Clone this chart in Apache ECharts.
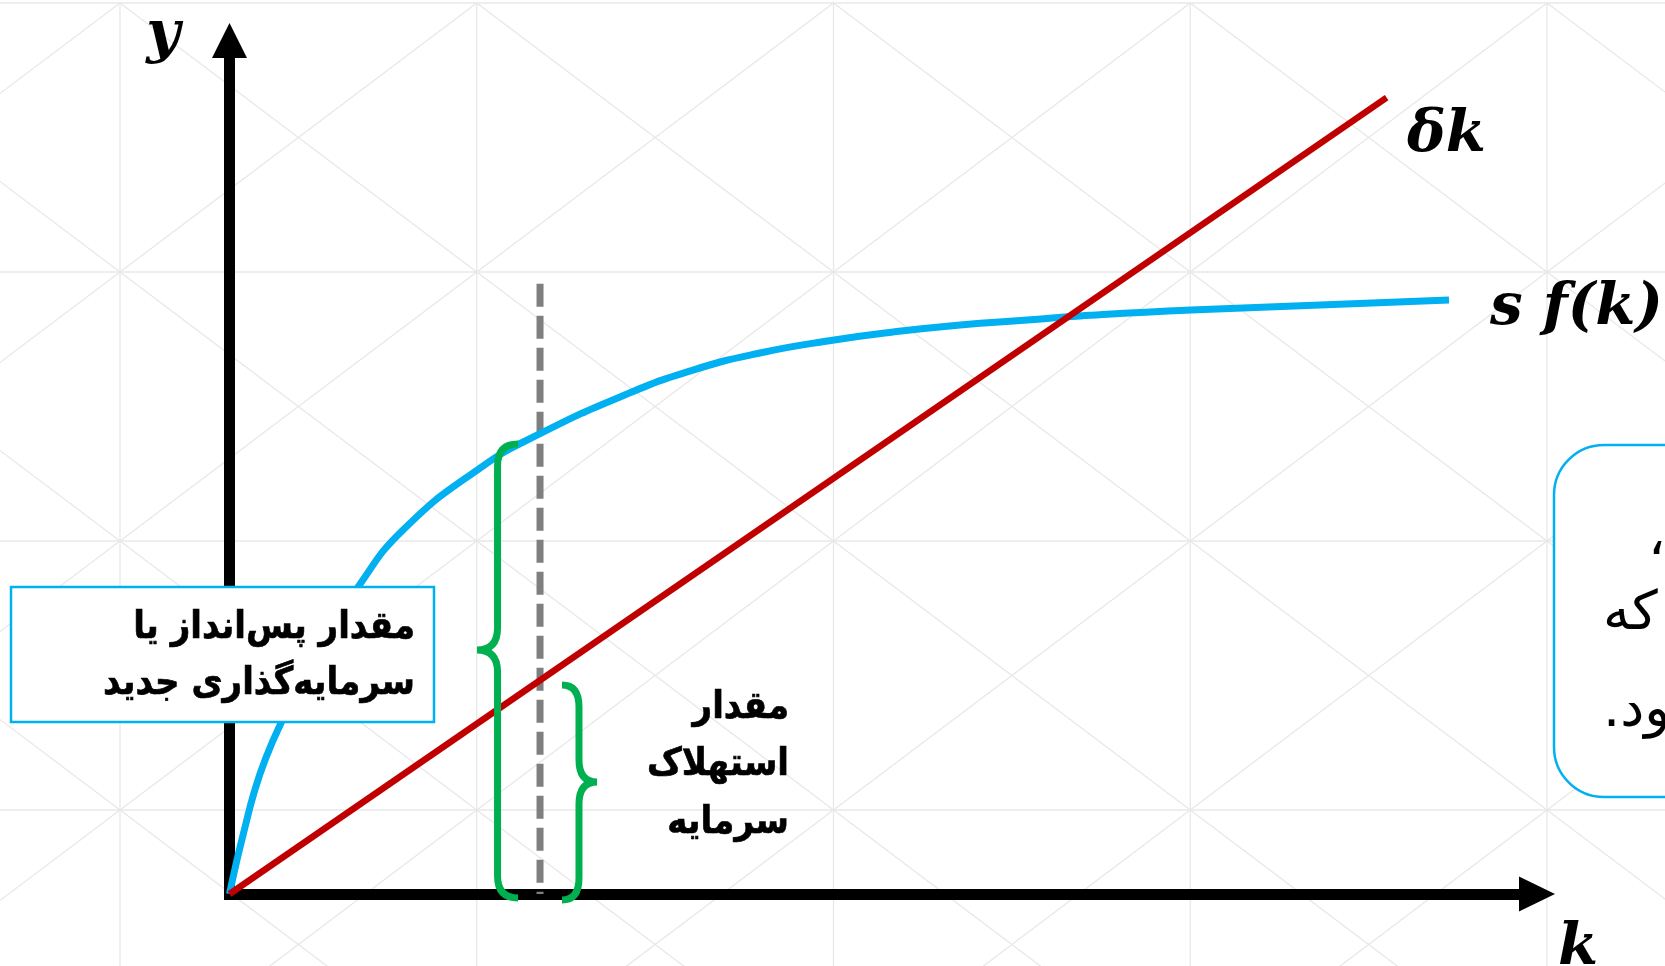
<!DOCTYPE html>
<html><head><meta charset="utf-8">
<script src="https://cdn.jsdelivr.net/npm/echarts@6/dist/echarts.min.js"></script>
<style>html,body{margin:0;padding:0;background:#fff}#c{width:1665px;height:966px}</style>
</head><body><div id="c"></div>
<script>
// ---- data (axis units: k 0..100, y 0..100) ----
const sfK = [0, 0.57, 1.19, 1.87, 2.72, 3.94, 6.77, 9.83, 13.27, 19.16, 23.71, 30.40, 35.45, 40.57, 46.25, 50.76, 55.89, 61.01, 65.06, 73.55, 93.27];
const sfV = [0, 3.98, 7.85, 11.83, 15.70, 20.04, 28.59, 35.97, 42.65, 49.91, 53.90, 58.58, 61.39, 63.39, 64.91, 65.85, 66.67, 67.25, 67.72, 68.42, 69.59];
const deltaK = [0, 88.5];
const deltaV = [0, 93.3];
const kStar = [23.75, 23.75];
const kStarV = [71.5, 0];
// braces: spine k, hook k, point k, bottom v, top v, point v
const braceSpine = [20.5, 26.73];
const braceHook = [22.07, 25.43];
const bracePointK = [18.93, 28.11];
const braceBottom = [-0.47, -0.7];
const braceTop = [52.72, 24.49];
const bracePointV = [28.59, 13.12];
// background pattern (cell indices)
const bgCols = [-1, 0, 1, 2, 3, 4, 5];
const bgRows = [0, 1, 2, 3, 4];
// texts
const yLabel = 'y', kLabel = 'k', deltaLabel = 'δk', sfLabel = 's f(k)';
const boxText = 'مقدار پس‌انداز یا\nسرمایه‌گذاری جدید';
const deprText = 'مقدار\nاستهلاک\nسرمایه';
const noteLines = ['،', 'که', 'می‌شود.\u200F'];

// build background segments
const bgSegs = [];
bgRows.forEach(r => bgSegs.push([bgCols[0], r, bgCols[bgCols.length - 1], r]));
bgCols.forEach(c => bgSegs.push([c, bgRows[0], c, bgRows[bgRows.length - 1]]));
for (let i = 0; i < bgCols.length - 1; i++) {
  for (let j = 0; j < bgRows.length - 1; j++) {
    const c = bgCols[i], r = bgRows[j];
    bgSegs.push([c, r, c + 1, r + 1]);
    bgSegs.push([c, r + 1, c + 1, r]);
  }
}
const braceData = braceSpine.map((s, i) => [s, braceHook[i], bracePointK[i], braceBottom[i], braceTop[i], bracePointV[i]]);

const chart = echarts.init(document.getElementById('c'), null, {renderer: 'canvas'});
const serifLbl = {fontFamily: 'DejaVu Serif', fontWeight: 'bold', fontStyle: 'italic', fontSize: 58, fill: '#000'};
function lbl(text, x, y, align) {
  return {type: 'text', z: 120, style: Object.assign({text, x, y, textAlign: align, align: align, textVerticalAlign: 'middle', verticalAlign: 'middle'}, serifLbl)};
}
const faFont = {fontFamily: 'DejaVu Sans', fill: '#000'};
const SY = 1.12;
function faBlock(text, x, y, lh) {
  return {type: 'text', z: 110, x: x, y: y, scaleY: SY,
    style: Object.assign({text: text, x: 0, y: 0, fontSize: 34, fontWeight: 'bold', lineHeight: lh / SY,
      stroke: '#000', lineWidth: 0.6,
      textAlign: 'right', align: 'right', textVerticalAlign: 'top', verticalAlign: 'top'}, faFont)};
}
function note(text, x, y) {
  return {type: 'text', z: 110, style: Object.assign({text: text, x: x, y: y, fontSize: 54, textAlign: 'left', align: 'left', textVerticalAlign: 'middle', verticalAlign: 'middle'}, faFont)};
}
chart.setOption({
  animation: false,
  backgroundColor: '#fff',
  grid: [
    {left: 120, top: 3, width: 1427, height: 807},
    {left: 229.5, top: 40.5, right: 128, bottom: 72}
  ],
  xAxis: [
    {gridIndex: 0, type: 'value', min: 0, max: 4, show: false},
    {gridIndex: 1, type: 'value', min: 0, max: 100,
     axisLine: {show: true, symbol: ['none', 'triangle'], symbolSize: [35, 36], lineStyle: {color: '#000', width: 11, cap: 'square'}},
     axisTick: {show: false}, axisLabel: {show: false}, splitLine: {show: false}}
  ],
  yAxis: [
    {gridIndex: 0, type: 'value', min: 0, max: 3, inverse: true, show: false},
    {gridIndex: 1, type: 'value', min: 0, max: 100,
     axisLine: {show: true, symbol: ['none', 'triangle'], symbolSize: [35, 35], lineStyle: {color: '#000', width: 11, cap: 'square'}},
     axisTick: {show: false}, axisLabel: {show: false}, splitLine: {show: false}}
  ],
  series: [
    {
      type: 'custom', xAxisIndex: 0, yAxisIndex: 0, z: 0, silent: true, clip: false,
      data: bgSegs,
      renderItem: function (params, api) {
        const a = api.coord([api.value(0), api.value(1)]);
        const b = api.coord([api.value(2), api.value(3)]);
        return {type: 'line', shape: {x1: a[0], y1: a[1], x2: b[0], y2: b[1]}, style: {stroke: '#e8e8e8', lineWidth: 1.3}};
      }
    },
    {
      type: 'line', xAxisIndex: 1, yAxisIndex: 1, z: 3, showSymbol: false, symbol: 'none',
      data: kStar.map((k, i) => [k, kStarV[i]]),
      lineStyle: {color: '#7f7f7f', width: 7, type: [23, 9]}
    },
    {
      type: 'line', xAxisIndex: 1, yAxisIndex: 1, z: 4, showSymbol: false, symbol: 'none', smooth: 0.5,
      data: sfK.map((k, i) => [k, sfV[i]]),
      lineStyle: {color: '#00B0F0', width: 7}
    },
    {
      type: 'line', xAxisIndex: 1, yAxisIndex: 1, z: 5, showSymbol: false, symbol: 'none',
      data: deltaK.map((k, i) => [k, deltaV[i]]),
      lineStyle: {color: '#C00000', width: 6.5}
    },
    {
      type: 'custom', xAxisIndex: 1, yAxisIndex: 1, z: 6, clip: false,
      data: braceData,
      renderItem: function (params, api) {
        const sx = api.coord([api.value(0), 0])[0];
        const hx = api.coord([api.value(1), 0])[0];
        const p = api.coord([api.value(2), api.value(5)]);
        const yB = api.coord([0, api.value(3)])[1];
        const yT = api.coord([0, api.value(4)])[1];
        const r = 22;
        const d = 'M' + hx + ' ' + yT + ' Q' + sx + ' ' + yT + ' ' + sx + ' ' + (yT + r) +
          ' L' + sx + ' ' + (p[1] - r) + ' Q' + sx + ' ' + p[1] + ' ' + p[0] + ' ' + p[1] +
          ' Q' + sx + ' ' + p[1] + ' ' + sx + ' ' + (p[1] + r) +
          ' L' + sx + ' ' + (yB - r) + ' Q' + sx + ' ' + yB + ' ' + hx + ' ' + yB;
        return {type: 'path', shape: {pathData: d}, style: {stroke: '#00B050', lineWidth: 7, fill: 'none'}};
      }
    }
  ],
  graphic: [
    {type: 'rect', z: 100, shape: {x: 11, y: 587, width: 423, height: 135}, style: {fill: '#fff', stroke: '#00B0F0', lineWidth: 2.5}},
    faBlock(boxText, 415, 600, 56),
    faBlock(deprText, 789, 679, 57.5),
    {type: 'rect', z: 100, shape: {x: 1554, y: 445, width: 300, height: 352, r: 50}, style: {fill: '#fff', stroke: '#00B0F0', lineWidth: 2.5}},
    note(noteLines[0], 1648, 540),
    note(noteLines[1], 1603, 615),
    note(noteLines[2], 1603, 712),
    lbl(yLabel, 163, 35.5, 'center'),
    lbl(deltaLabel, 1407, 135.5, 'left'),
    lbl(sfLabel, 1490, 308.5, 'left'),
    lbl(kLabel, 1558, 948.5, 'left')
  ]
});
</script>
</body></html>
